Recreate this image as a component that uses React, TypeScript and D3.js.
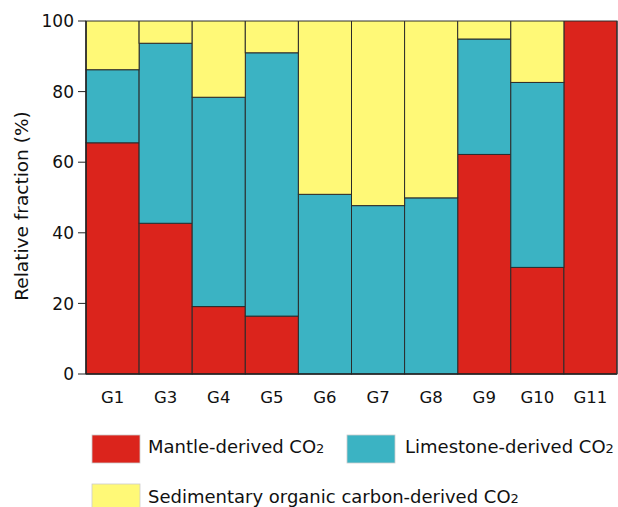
import React from 'react';
import * as d3 from 'd3';

const groups = ['G1', 'G3', 'G4', 'G5', 'G6', 'G7', 'G8', 'G9', 'G10', 'G11'];
const mantle = [65.5, 42.7, 19.1, 16.4, 0, 0, 0, 62.2, 30.2, 100];
const limestone = [20.7, 51.0, 59.3, 74.6, 50.9, 47.7, 49.9, 32.7, 52.4, 0];
const sedimentary = [13.8, 6.3, 21.6, 9.0, 49.1, 52.3, 50.1, 5.1, 17.4, 0];
const yTicks = [0, 20, 40, 60, 80, 100];

const seriesKeys = ['mantle', 'limestone', 'sedimentary'];
const seriesColors = ['#DB241C', '#3BB3C3', '#FFF977'];
const seriesNames = ['Mantle-derived CO', 'Limestone-derived CO', 'Sedimentary organic carbon-derived CO'];

const App = () => {
  const width = 618;
  const height = 507;
  const left = 86, right = 617, top = 21, bottom = 374;

  const x = d3.scaleBand().domain(groups).range([left, right]).padding(0);
  const y = d3.scaleLinear().domain([0, 100]).range([bottom, top]);

  const table = groups.map((g, i) => ({
    group: g,
    mantle: mantle[i],
    limestone: limestone[i],
    sedimentary: sedimentary[i],
  }));
  const stacked = d3.stack().keys(seriesKeys)(table as any);

  const font = '"DejaVu Sans", Arial, sans-serif';

  // legend placement
  const legend = [
    { i: 0, bx: 92, by: 435, tx: 148, ty: 453 },
    { i: 1, bx: 347, by: 435, tx: 405, ty: 453 },
    { i: 2, bx: 92, by: 484, tx: 148, ty: 503 },
  ];

  return (
    <svg width={width} height={height} style={{ position: 'absolute', left: 0, top: 0 }}>
      {stacked.map((layer, li) => (
        <g key={li}>
          {layer.map((d, i) => (
            d[1] - d[0] > 0 ? (
              <rect
                key={i}
                x={x(groups[i])}
                y={y(d[1])}
                width={x.bandwidth()}
                height={y(d[0]) - y(d[1])}
                fill={seriesColors[li]}
                stroke="#2b2b2b"
                strokeWidth={1}
              />
            ) : null
          ))}
        </g>
      ))}
      <line x1={left} x2={right} y1={top - 0.5} y2={top - 0.5} stroke="#999" strokeWidth={1.2} />
      <line x1={left} x2={left} y1={top} y2={bottom} stroke="#222" strokeWidth={1.5} />
      <line x1={left} x2={right} y1={bottom} y2={bottom} stroke="#222" strokeWidth={1.5} />
      <line x1={right} x2={right} y1={top} y2={bottom} stroke="#333" strokeWidth={1.2} />
      {yTicks.map(t => (
        <g key={t}>
          <line x1={left - 8} x2={left} y1={y(t)} y2={y(t)} stroke="#222" strokeWidth={1} />
          <text x={left - 12} y={y(t)} dy="0.36em" textAnchor="end" fontSize={17} fontFamily={font} fill="#111">{t}</text>
        </g>
      ))}
      {groups.map(g => (
        <text key={g} x={(x(g) as number) + x.bandwidth() / 2} y={403} textAnchor="middle" fontSize={16.5} fontFamily={font} fill="#111">{g}</text>
      ))}
      <text transform="translate(28,206) rotate(-90)" textAnchor="middle" fontSize={18.5} fontFamily={font} fill="#111">Relative fraction (%)</text>
      {legend.map(l => (
        <g key={l.i}>
          <rect x={l.bx} y={l.by} width={48} height={28} fill={seriesColors[l.i]} stroke="#ccc" strokeWidth={0.8} />
          <text x={l.tx} y={l.ty} fontSize={18} fontFamily={font} fill="#111">
            {seriesNames[l.i]}<tspan fontSize={13}>2</tspan>
          </text>
        </g>
      ))}
    </svg>
  );
};

export default App;
